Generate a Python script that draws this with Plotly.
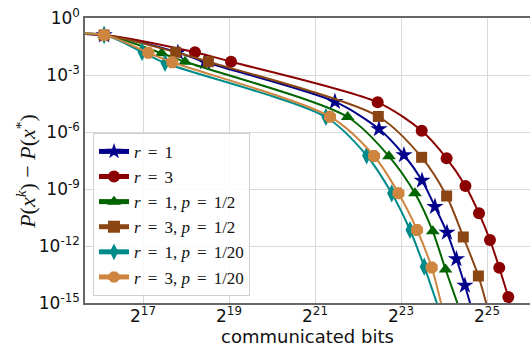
import math
import plotly.graph_objects as go

# ---- data ----
# first entry of every series is the starting iterate (drawn as a flat segment from the left edge)
S = "\u2006"
labels = [f"<i>r</i> {S}={S} 1", f"<i>r</i> {S}={S} 3", f"<i>r</i> {S}={S} 1, <i>p</i> {S}={S} 1/2",
          f"<i>r</i> {S}={S} 3, <i>p</i> {S}={S} 1/2", f"<i>r</i> {S}={S} 1, <i>p</i> {S}={S} 1/20",
          f"<i>r</i> {S}={S} 3, <i>p</i> {S}={S} 1/20"]

r1_bits = [16384, 70000, 230000, 356000, 2.89e6, 5.88e6, 8.8e6, 11.77e6, 14.5e6, 17.6e6, 20.5e6, 23.5e6, 26.9e6]
r1_vals = [0.127, 0.127, 0.0153, 0.00483, 3.93e-5, 1.44e-6, 6.15e-8, 2.8e-9, 1.17e-10, 5.14e-12, 2.07e-13, 8.34e-15, 2.5e-16]

r3_bits = [16384, 70000, 303000, 541600, 5.76e6, 11.71e6, 17.5e6, 23.7e6, 29.5e6, 35.2e6, 40.9e6, 47.3e6, 51.5e6]
r3_vals = [0.127, 0.127, 0.0157, 0.00501, 3.66e-5, 1.17e-6, 4.13e-8, 1.44e-9, 5.25e-11, 2.07e-12, 7.21e-14, 2.07e-15, 2.5e-16]

r1p2_bits = [16384, 70000, 177200, 258000, 3.55e6, 6.91e6, 10.5e6, 14.0e6, 17.2e6, 22.2e6]
r1p2_vals = [0.127, 0.127, 0.0139, 0.00501, 6.15e-6, 5.26e-8, 5.94e-10, 5.94e-12, 5.8e-14, 2.5e-16]

r3p2_bits = [16384, 70000, 222000, 376000, 5.82e6, 11.7e6, 17.5e6, 22.9e6, 29.2e6, 34.8e6]
r3p2_vals = [0.127, 0.127, 0.0157, 0.00501, 6.55e-6, 4.66e-8, 4.28e-10, 2.98e-12, 2.64e-14, 2.5e-16]

r1p20_bits = [16384, 70000, 129000, 186900, 2.5e6, 4.82e6, 7.22e6, 9.7e6, 12.2e6, 15.9e6]
r1p20_vals = [0.127, 0.127, 0.0163, 0.00428, 6.15e-6, 5.8e-8, 5.94e-10, 6.95e-12, 8.14e-14, 2.5e-16]

r3p20_bits = [16384, 70000, 142700, 210000, 2.67e6, 5.43e6, 8.06e6, 10.86e6, 13.76e6, 16.7e6]
r3p20_vals = [0.127, 0.127, 0.0147, 0.00466, 6.38e-6, 5.46e-8, 5.94e-10, 6.95e-12, 7.38e-14, 2.5e-16]

x_tick_powers = [17, 19, 21, 23, 25]
y_tick_powers = [0, -3, -6, -9, -12, -15]

# ---- styles ----
series = [
    (r1_bits, r1_vals, "#00008B", "star", 13),
    (r3_bits, r3_vals, "#8B0000", "circle", 12),
    (r1p2_bits, r1p2_vals, "#006400", "triangle-up", 12),
    (r3p2_bits, r3p2_vals, "#8B4513", "square", 11),
    (r1p20_bits, r1p20_vals, "#008B8B", "diamond-tall", 13),
    (r3p20_bits, r3p20_vals, "#CD853F", "octagon", 13),
]

fig = go.Figure()
for (bx, by, col, sym, sz), lab in zip(series, labels):
    fig.add_trace(go.Scatter(
        x=bx, y=by, name=lab, mode="lines+markers",
        line=dict(color=col, width=2, shape="spline", smoothing=0.8),
        marker=dict(symbol=sym, size=sz, color=col, line=dict(width=0)),
    ))

x_lo = 15.651 * math.log10(2)
x_hi = 26 * math.log10(2)

fig.update_layout(
    width=530, height=346,
    margin=dict(l=85, r=0, t=18, b=43),
    plot_bgcolor="white", paper_bgcolor="white",
    font=dict(family="DejaVu Sans", color="#111111"),
    showlegend=True,
    legend=dict(
        x=0.018, y=0.025, xanchor="left", yanchor="bottom",
        bgcolor="rgba(255,255,255,0.85)", bordercolor="#d0d0d0", borderwidth=1,
        font=dict(family="Liberation Serif", size=17, color="#111111"),
        itemsizing="constant",
    ),
    xaxis=dict(
        type="log", range=[x_lo, x_hi], automargin=False,
        tickvals=[2 ** p for p in x_tick_powers],
        ticktext=[f"2<sup>{p}</sup>" for p in x_tick_powers],
        tickfont=dict(size=17), ticklabelstandoff=-3,
        showgrid=True, gridcolor="#d9d9d9", gridwidth=1,
        showline=True, linecolor="#666666", linewidth=1.5, mirror=True,
        ticks="", zeroline=False,
    ),
    yaxis=dict(
        type="log", range=[-15, 0], automargin=False,
        tickvals=[10.0 ** p for p in y_tick_powers],
        ticktext=[f"10<sup>{p}</sup>" for p in y_tick_powers],
        tickfont=dict(size=17),
        showgrid=True, gridcolor="#d9d9d9", gridwidth=1,
        showline=True, linecolor="#666666", linewidth=1.5,
        ticks="", zeroline=False,
    ),
    annotations=[
        dict(text="communicated bits", xref="paper", yref="paper", x=0.5, y=-0.119,
             xanchor="center", yanchor="middle", showarrow=False,
             font=dict(family="DejaVu Sans", size=18, color="#111111")),
        dict(text="<i>P</i>(<i>x</i><sup><i>k</i></sup>) − <i>P</i>(<i>x</i><sup>*</sup>)",
             xref="paper", yref="paper", x=-0.133, y=0.463, textangle=-90,
             xanchor="center", yanchor="middle", showarrow=False,
             font=dict(family="Liberation Serif", size=22, color="#111111")),
    ],
)

fig.write_html("out.html", config={"displayModeBar": False},
               post_script="document.body.style.margin='0';")
